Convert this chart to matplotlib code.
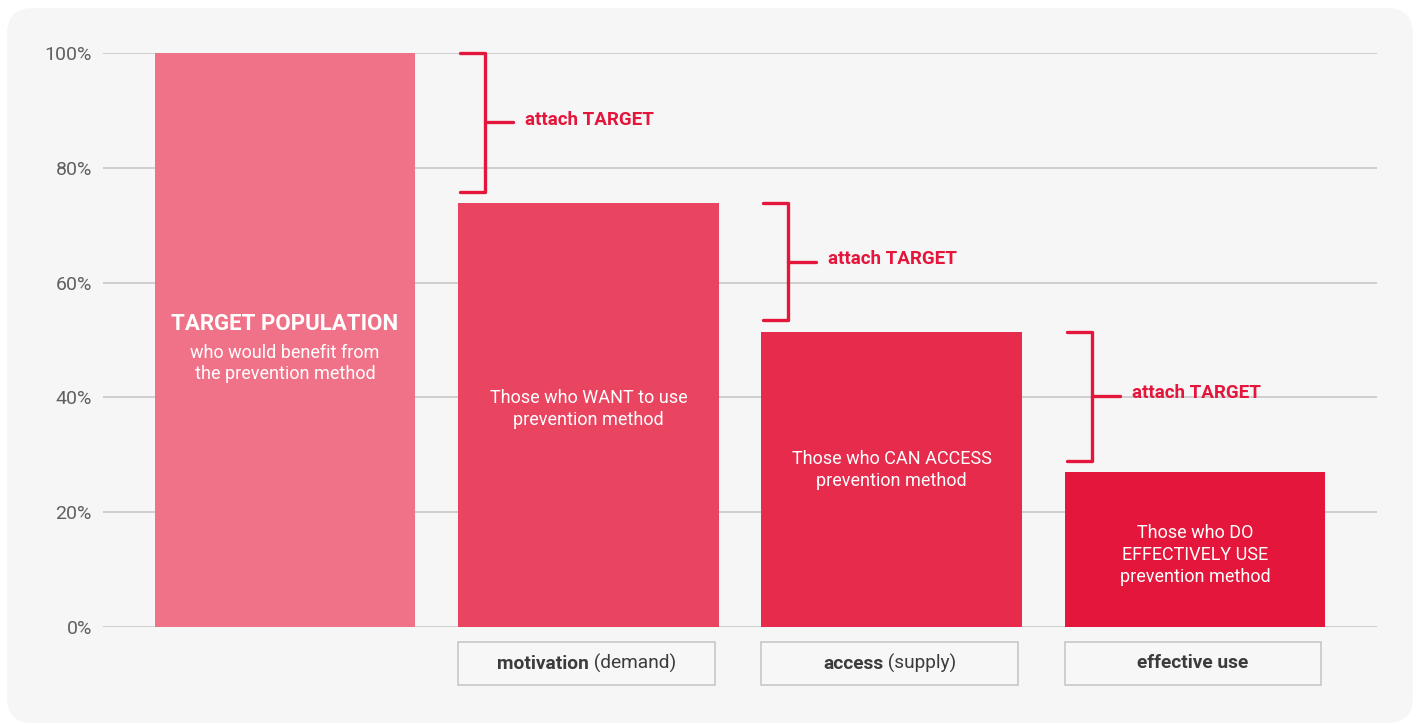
import matplotlib.pyplot as plt
from matplotlib.patches import FancyBboxPatch, Rectangle
from matplotlib.offsetbox import TextArea, HPacker, AnnotationBbox
from matplotlib.ticker import FuncFormatter

plt.rcParams['font.family'] = ['Roboto', 'DejaVu Sans']

# data
values = [100, 73.8, 51.4, 27]
bar_colors = ["#EF7288", "#E94560", "#E62B4D", "#E4163B"]
bar_texts = [
    "who would benefit from\nthe prevention method",
    "Those who WANT to use\nprevention method",
    "Those who CAN ACCESS\nprevention method",
    "Those who DO\nEFFECTIVELY USE\nprevention method",
]
stage_bold = ["motivation", "access", "effective use"]
stage_rest = [" (demand)", " (supply)", ""]
bracket_text = "attach TARGET"
yticks = [0, 20, 40, 60, 80, 100]

# small nudges of the in-bar labels (layout only)
label_nudge = [-4.1, 1.0, 1.7, -1.0]

red = "#E4163B"
W, H = 1416, 724
fig = plt.figure(figsize=(W / 100, H / 100), dpi=100)
fig.patch.set_facecolor("white")

# rounded panel behind everything, pixel coordinates
bg = fig.add_axes([0, 0, 1, 1], zorder=0)
bg.set_xlim(0, W)
bg.set_ylim(H, 0)
bg.axis("off")
bg.add_patch(FancyBboxPatch((7, 8), 1406, 715,
                            boxstyle="round,pad=0,rounding_size=26",
                            fc="#F6F6F6", ec="none"))

ax = fig.add_axes([103 / W, (H - 627) / H, 1274 / W, 574 / H], zorder=1)
ax.patch.set_alpha(0)
ax.set_xlim(-0.6, 3.6)
ax.set_ylim(0, 100)
for s in ax.spines.values():
    s.set_visible(False)
ax.set_yticks(yticks)
ax.yaxis.set_major_formatter(FuncFormatter(lambda v, p: "%d%%" % v))
ax.tick_params(axis="y", length=0, pad=8, labelsize=14, labelcolor="#606060")
ax.set_xticks([])
ax.grid(axis="y", color="#C8C8C8", lw=1.2, zorder=0)
ax.set_axisbelow(True)

xs = range(len(values))
bw = 0.86
ax.bar(xs, values, width=bw, color=bar_colors, zorder=2)

# bar labels
ax.text(0, values[0] / 2 + 2.8, "TARGET POPULATION", ha="center", va="center",
        color="white", fontsize=16, fontweight="bold", zorder=3)
for i in range(len(values)):
    ax.text(i, values[i] / 2 + label_nudge[i], bar_texts[i], ha="center", va="center",
            color="white", fontsize=13, linespacing=1.28, zorder=3)

# brackets
px = 1 / 303.33
for i in range(1, len(values)):
    x0 = i - bw / 2 + 2 * px
    xv = x0 + 25 * px
    top = values[i - 1]
    bot = values[i] + 2
    mid = (top + bot) / 2
    ax.plot([x0, xv, xv, x0], [top, top, bot, bot], color=red, lw=2.4,
            solid_capstyle="round", solid_joinstyle="round", zorder=3, clip_on=False)
    ax.plot([xv, xv + 28 * px], [mid, mid], color=red, lw=2.4,
            solid_capstyle="round", zorder=3, clip_on=False)
    ax.text(xv + 40 * px, mid + 0.5, bracket_text, ha="left", va="center",
            color=red, fontsize=13.5, fontweight="bold", zorder=3)

# stage boxes under bars
for j in range(len(stage_bold)):
    i = j + 1
    left = i - bw / 2
    ax.add_patch(Rectangle((left, -10.1), 0.847, 7.5, fc="#F7F7F7", ec="#C4C4C4",
                           lw=1.1, clip_on=False, zorder=2))
    parts = [TextArea(stage_bold[j], textprops=dict(fontsize=13.8, fontweight="bold",
                                                     color="#3C3C3C"))]
    if stage_rest[j]:
        parts.append(TextArea(stage_rest[j], textprops=dict(fontsize=13.8, color="#3C3C3C")))
    pack = HPacker(children=parts, align="baseline", pad=0, sep=0)
    ab = AnnotationBbox(pack, (left + 0.847 / 2, -6.35), frameon=False,
                        box_alignment=(0.5, 0.5), annotation_clip=False, zorder=3)
    ax.add_artist(ab)

fig.savefig("out.png", dpi=100, facecolor="white")
